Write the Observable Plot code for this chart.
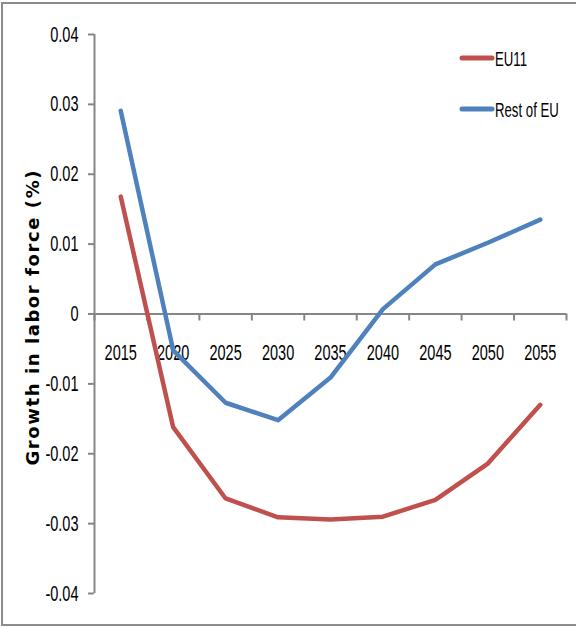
<!DOCTYPE html>
<html><head><meta charset="utf-8">
<script src="https://cdn.jsdelivr.net/npm/d3@7"></script>
<script src="https://cdn.jsdelivr.net/npm/@observablehq/plot@0.6"></script>
<style>
body{margin:0;background:#fff}
#chart{position:relative;width:576px;height:627px;overflow:hidden}
g[aria-label="y-axis tick"] path, g[aria-label="y-axis tick"] line{stroke:#868686;stroke-width:2px}
</style>
</head><body><div id="chart"></div>
<script>
const years = [2015, 2020, 2025, 2030, 2035, 2040, 2045, 2050, 2055];
const eu11 = [0.0168, -0.0162, -0.0264, -0.0291, -0.0294, -0.0290, -0.0266, -0.0214, -0.0130];
const restEU = [0.0291, -0.0052, -0.0127, -0.0152, -0.0091, 0.0007, 0.0071, 0.0102, 0.0135];
const yTicks = [-0.04, -0.03, -0.02, -0.01, 0, 0.01, 0.02, 0.03, 0.04];
const seriesNames = ["EU11", "Rest of EU"];
const seriesColors = ["#C0504D", "#4F81BD"];
const yTitle = "Growth in labor force (%)";

const data = [
  ...years.map((yr, i) => ({year: yr, value: eu11[i], series: seriesNames[0]})),
  ...years.map((yr, i) => ({year: yr, value: restEU[i], series: seriesNames[1]}))
];
const step = 5;
const bounds = [...years.map(y => y - step / 2), years[years.length - 1] + step / 2];
const labelFont = "'Liberation Sans',Arial,sans-serif";

const plot = Plot.plot({
  width: 576, height: 627,
  marginLeft: 94, marginRight: 10, marginTop: 34, marginBottom: 34,
  style: {fontFamily: labelFont, fontSize: "22px", color: "black", background: "white", overflow: "visible"},
  x: {type: "linear", domain: [bounds[0], bounds[bounds.length - 1]], axis: null},
  y: {domain: [yTicks[0], yTicks[yTicks.length - 1]], axis: "left", ticks: yTicks,
      tickFormat: d => d === 0 ? "0" : d.toFixed(2), tickSize: 6, tickPadding: 10, label: null, line: false},
  color: {domain: seriesNames, range: seriesColors},
  marks: [
    Plot.ruleX([bounds[0]], {y1: yTicks[0], y2: yTicks[yTicks.length - 1], stroke: "#868686", strokeWidth: 2}),
    Plot.ruleY([0], {stroke: "#868686", strokeWidth: 2}),
    Plot.ruleX(bounds, {x: d => d, y1: 0, y2: -0.001, stroke: "#868686", strokeWidth: 2}),
    Plot.text(years, {x: d => d, y: 0, text: d => String(d), dy: 39, fontSize: 22, fill: "black"}),
    Plot.line(data, {x: "year", y: "value", z: "series", stroke: "series", strokeWidth: 4.5,
      strokeLinejoin: "round", strokeLinecap: "round"}),
    Plot.text([yTitle], {frameAnchor: "left", textAnchor: "middle", text: d => d, rotate: -90, dx: -61, dy: 4,
      fontFamily: "'DejaVu Sans',Verdana,sans-serif", fontWeight: "bold", fontSize: 18, fill: "black"})
  ]
});

const svg = d3.select(plot);
// border
svg.insert("rect", ":first-child").attr("x", 2).attr("y", 3).attr("width", 600).attr("height", 622)
  .attr("fill", "white").attr("stroke", "#8c8c8c").attr("stroke-width", 2);
document.getElementById("chart").appendChild(plot);

// condense label glyphs to mimic the narrow chart font; fit the axis title length
svg.selectAll("text").each(function() {
  const t = this.textContent;
  if (t === yTitle) {
    this.setAttribute("textLength", 295);
    this.setAttribute("lengthAdjust", "spacing");
  } else {
    const L = this.getComputedTextLength();
    this.setAttribute("textLength", (L * 0.66).toFixed(1));
    this.setAttribute("lengthAdjust", "spacingAndGlyphs");
  }
});

// legend (narrowed by a horizontal scale)
const lg = svg.append("g").attr("text-anchor", "start");
seriesNames.forEach((name, i) => {
  const yy = 58 + i * 51;
  lg.append("line").attr("x1", 462).attr("x2", 492).attr("y1", yy).attr("y2", yy)
    .attr("stroke", seriesColors[i]).attr("stroke-width", 5).attr("stroke-linecap", "round");
  lg.append("text").attr("transform", `translate(495,${yy + 1}) scale(0.66,1)`).attr("dy", "0.35em").text(name)
    .attr("font-family", labelFont).attr("font-size", 20).attr("fill", "black");
});
</script>
</body></html>
